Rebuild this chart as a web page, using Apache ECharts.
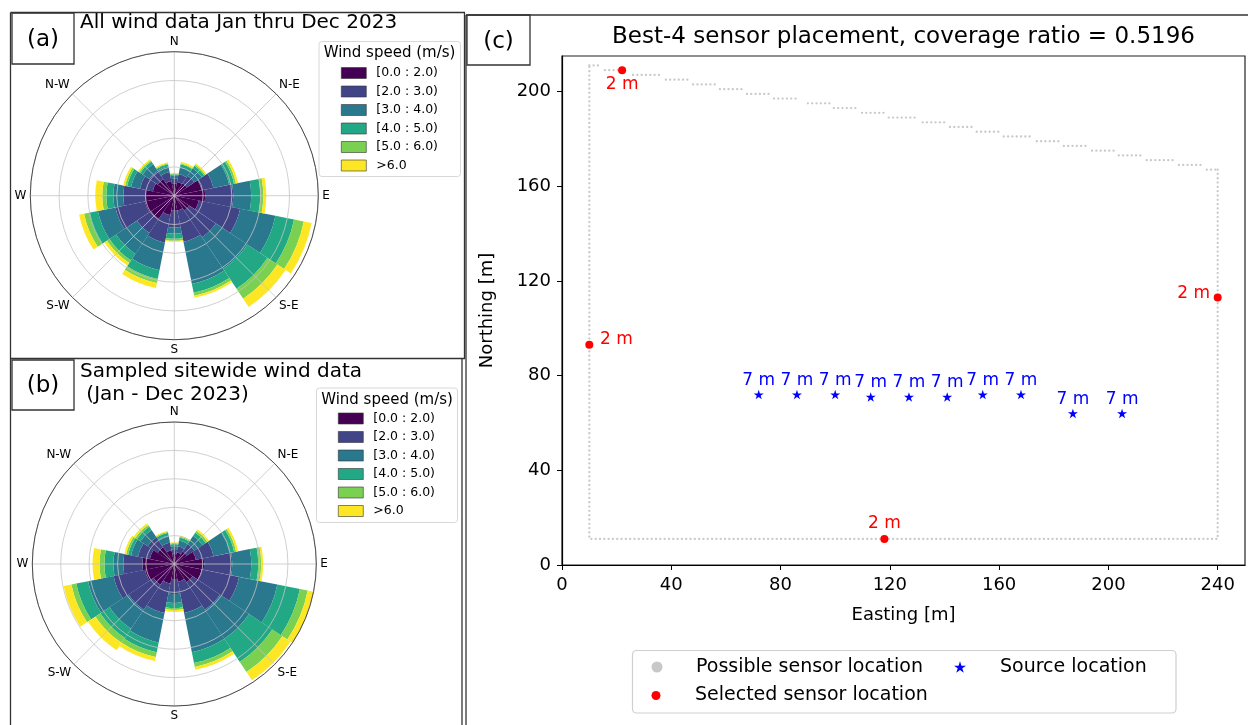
<!DOCTYPE html>
<html>
<head>
<meta charset="utf-8">
<script src="https://cdn.jsdelivr.net/npm/echarts@6/dist/echarts.min.js"></script>
<style>
  html, body { margin: 0; padding: 0; background: #fff; }
  #chart { width: 1248px; height: 725px; }
</style>
</head>
<body>
<div id="chart"></div>
<script>
// wind rose: 16 sectors, frequency (%) of each speed bin
const directions = ["N", "NNE", "NE", "ENE", "E", "ESE", "SE", "SSE", "S", "SSW", "SW", "WSW", "W", "WNW", "NW", "NNW"];
const compassTicks = { 0: "N", 45: "N-E", 90: "E", 135: "S-E", 180: "S", 225: "S-W", 270: "W", 315: "N-W" };
const speedBins = ["[0.0 : 2.0)", "[2.0 : 3.0)", "[3.0 : 4.0)", "[4.0 : 5.0)", "[5.0 : 6.0)", ">6.0"];

// (a) all wind data
const allWind0 = [0.83, 0.97, 1.04, 1.94, 2.15, 1.74, 1.25, 1.04, 1.04, 1.39, 1.94, 2.08, 2.01, 1.53, 1.39, 1.04];
const allWind1 = [0.35, 0.56, 0.63, 0.83, 1.94, 2.92, 2.22, 2.22, 1.18, 1.94, 1.18, 2.08, 1.53, 0.90, 0.69, 0.63];
const allWind2 = [0.21, 0.49, 0.63, 1.11, 1.25, 2.50, 2.64, 2.99, 0.42, 1.94, 1.74, 1.25, 0.69, 0.63, 0.56, 0.42];
const allWind3 = [0.10, 0.21, 0.21, 0.35, 0.63, 1.32, 1.67, 0.63, 0.35, 0.63, 0.56, 0.63, 0.49, 0.28, 0.21, 0.14];
const allWind4 = [0.06, 0.07, 0.10, 0.14, 0.21, 0.69, 0.83, 0.21, 0.14, 0.28, 0.21, 0.35, 0.28, 0.14, 0.10, 0.07];
const allWind5 = [0.05, 0.10, 0.10, 0.14, 0.21, 0.56, 0.69, 0.14, 0.07, 0.35, 0.21, 0.35, 0.49, 0.14, 0.10, 0.07];

// (b) sampled sitewide wind data
const sampled0 = [0.70, 0.85, 1.06, 1.55, 2.11, 1.97, 1.55, 1.27, 1.06, 1.41, 1.76, 2.11, 2.25, 1.76, 1.41, 0.99];
const sampled1 = [0.35, 0.42, 0.63, 1.27, 1.97, 2.68, 2.32, 2.25, 1.06, 2.11, 2.11, 2.25, 1.34, 0.85, 0.85, 0.56];
const sampled2 = [0.21, 0.42, 0.70, 1.20, 1.34, 2.75, 2.46, 2.82, 0.63, 2.11, 1.62, 1.83, 0.70, 0.49, 0.63, 0.49];
const sampled3 = [0.14, 0.21, 0.28, 0.28, 0.49, 1.62, 1.97, 0.77, 0.35, 0.70, 0.77, 0.85, 0.63, 0.21, 0.28, 0.21];
const sampled4 = [0.07, 0.07, 0.14, 0.14, 0.21, 0.56, 0.85, 0.28, 0.14, 0.35, 0.42, 0.35, 0.35, 0.14, 0.14, 0.07];
const sampled5 = [0.07, 0.07, 0.14, 0.14, 0.14, 0.42, 0.70, 0.21, 0.14, 0.28, 0.63, 0.56, 0.49, 0.14, 0.14, 0.07];

// (c) sensor placement, easting/northing in m
const xTicks = [0, 40, 80, 120, 160, 200, 240];
const yTicks = [0, 40, 80, 120, 160, 200];
const boundaryOuter = [[240, 167], [240, 11], [10, 11], [10, 211]];
// stepped top edge: [east start, east end, northing]
const boundaryTopRows = [
  [10, 14.6, 211], [15.7, 22, 209], [26, 36.6, 207], [38, 46.8, 205], [48, 56.7, 203],
  [57.8, 66.6, 201], [67.7, 76.5, 199], [77.6, 86.7, 197], [90, 98.8, 195], [99.5, 108.7, 193],
  [109.8, 119, 191], [119.6, 130, 189], [132, 140.5, 187], [142, 150.4, 185], [151.8, 160.6, 183],
  [161.7, 172.3, 181], [173.8, 182.6, 179], [183.7, 192.5, 177], [194, 202.7, 175], [203.8, 212.6, 173],
  [214, 224.3, 171], [225.8, 234.5, 169], [236, 240, 167]
];
const selectedSensors = [[22, 209], [240, 113], [10, 93], [118, 11]];
const selectedHeights = ["2 m", "2 m", "2 m", "2 m"];
const sources = [[72, 72], [86, 72], [100, 72], [113, 71], [127, 71], [141, 71], [154, 72], [168, 72], [187, 64], [205, 64]];
const sourceHeights = ["7 m", "7 m", "7 m", "7 m", "7 m", "7 m", "7 m", "7 m", "7 m", "7 m"];

const FONT = "DejaVu Sans";
const viridis6 = ["#440154", "#414487", "#2a788e", "#22a884", "#7ad151", "#fde725"];
const selectedLabelOffsets = [[0, 14], [-24, -4], [27, -5], [0, -15]];

function starPath() {
  const pts = [];
  for (let i = 0; i < 10; i++) {
    const r = i % 2 ? 0.382 : 1;
    const a = -Math.PI / 2 + (i * Math.PI) / 5;
    pts.push((i ? "L" : "M") + (r * Math.cos(a)).toFixed(3) + " " + (r * Math.sin(a)).toFixed(3));
  }
  return "path://" + pts.join(" ") + "Z";
}
const STAR = starPath();

const chart = echarts.init(document.getElementById("chart"), null, { renderer: "canvas" });

function roseSeries(bins, polarIndex, stack) {
  return bins.map((vals, i) => ({
    type: "bar",
    coordinateSystem: "polar",
    polarIndex: polarIndex,
    stack: stack,
    name: speedBins[i],
    data: vals,
    barCategoryGap: "0%",
    itemStyle: { color: viridis6[i] },
    silent: true,
    z: 2
  }));
}

function roseAxes(barPolar, gridPolar) {
  return {
    angle: [
      {
        polarIndex: barPolar, type: "category", data: directions, startAngle: 101.25, clockwise: true,
        axisLine: { show: false }, axisTick: { show: false }, axisLabel: { show: false }, splitLine: { show: false }
      },
      {
        polarIndex: gridPolar, type: "value", min: 0, max: 360, interval: 45, startAngle: 90, clockwise: true, z: 10,
        axisLine: { lineStyle: { color: "#3a3a3a", width: 0.9 } },
        axisTick: { show: false },
        axisLabel: { margin: 4, color: "#000", fontFamily: FONT, fontSize: 12, formatter: v => compassTicks[v] || "" },
        splitLine: { show: true, lineStyle: { color: "#c4c4c4", width: 0.8 } }
      }
    ],
    radius: [
      { polarIndex: barPolar, type: "value", min: 0, max: 10, show: false },
      {
        polarIndex: gridPolar, type: "value", min: 0, max: 10, interval: 2, z: 10,
        axisLine: { show: false }, axisTick: { show: false }, axisLabel: { show: false },
        splitLine: { show: true, lineStyle: { color: "#c4c4c4", width: 0.8 } }
      }
    ]
  };
}
const axesA = roseAxes(0, 1);
const axesB = roseAxes(2, 3);

function text(x, y, str, size, extra) {
  return {
    type: "text", x: x, y: y, z: 20, silent: true,
    style: Object.assign({ text: str, fontFamily: FONT, fontSize: size, fill: "#000", align: "left", verticalAlign: "middle" }, extra || {})
  };
}
function box(x, y, w, h, stroke, lw, r) {
  return {
    type: "rect", z: 15, silent: true,
    shape: { x: x, y: y, width: w, height: h, r: r || 0 },
    style: { fill: null, stroke: stroke, lineWidth: lw }
  };
}
function line(x1, y1, x2, y2) {
  return { type: "line", z: 15, silent: true, shape: { x1, y1, x2, y2 }, style: { stroke: "#333", lineWidth: 1.3 } };
}

const roseLegend = (left, top) => ({
  orient: "vertical", left: left, top: top, data: speedBins, padding: 0,
  itemWidth: 25, itemHeight: 11, itemGap: 4.5, icon: "rect",
  itemStyle: { borderColor: "#333", borderWidth: 0.6 },
  textStyle: { fontFamily: FONT, fontSize: 12.5, color: "#000", lineHeight: 14, padding: [0, 0, 0, 5] },
  selectedMode: false
});

const cLegend = (left, top, name, icon, color, size, gap) => ({
  left: left, top: top, padding: 0, data: [{ name: name, icon: icon, itemStyle: { color: color } }],
  itemWidth: size, itemHeight: size, selectedMode: false,
  textStyle: { fontFamily: FONT, fontSize: 19, color: "#000", lineHeight: 22, padding: [0, 0, 0, gap] }
});

const option = {
  animation: false,
  backgroundColor: "#fff",
  polar: [
    { center: [174.3, 195.7], radius: 144 },
    { center: [174.3, 195.7], radius: 144 },
    { center: [174.3, 564], radius: 142 },
    { center: [174.3, 564], radius: 142 }
  ],
  angleAxis: axesA.angle.concat(axesB.angle),
  radiusAxis: axesA.radius.concat(axesB.radius),
  grid: { left: 562, top: 56, width: 683, height: 509, show: true, borderColor: "#222", borderWidth: 1.2 },
  xAxis: {
    type: "value", min: 0, max: 250,
    name: "Easting [m]", nameLocation: "middle", nameGap: 41,
    nameTextStyle: { fontFamily: FONT, fontSize: 18, color: "#000" },
    axisLine: { lineStyle: { color: "#000", width: 1.2 } },
    axisTick: { show: true, length: 5, customValues: xTicks, lineStyle: { color: "#000" } },
    axisLabel: { customValues: xTicks, margin: 11, fontFamily: FONT, fontSize: 18, color: "#000" },
    splitLine: { show: false }
  },
  yAxis: {
    type: "value", min: 0, max: 215,
    name: "Northing [m]", nameLocation: "middle", nameGap: 66, nameRotate: 90,
    nameTextStyle: { fontFamily: FONT, fontSize: 18, color: "#000" },
    axisLine: { show: true, lineStyle: { color: "#000", width: 1.2 } },
    axisTick: { show: true, length: 5, customValues: yTicks, lineStyle: { color: "#000" } },
    axisLabel: { customValues: yTicks, margin: 11, fontFamily: FONT, fontSize: 18, color: "#000" },
    splitLine: { show: false }
  },
  legend: [
    roseLegend(341, 66),
    roseLegend(338, 411.5),
    cLegend(651.5, 656, "Possible sensor location", "circle", "#c8c8c8", 9, 29.5),
    cLegend(651.5, 684.5, "Selected sensor location", "circle", "#ff0000", 9, 29.5),
    cLegend(954, 656, "Source location", STAR, "#0000ff", 12, 29)
  ],
  series: [
    ...roseSeries([allWind0, allWind1, allWind2, allWind3, allWind4, allWind5], 0, "all"),
    ...roseSeries([sampled0, sampled1, sampled2, sampled3, sampled4, sampled5], 2, "sampled"),
    {
      type: "lines", name: "Possible sensor location", coordinateSystem: "cartesian2d", polyline: true, silent: true,
      data: [{ coords: boundaryOuter }].concat(boundaryTopRows.map(r => ({ coords: [[r[0], r[2]], [r[1], r[2]]] }))),
      lineStyle: { color: "#c8c8c8", width: 2.3, type: [0.01, 4.3], cap: "round", opacity: 1 },
      z: 2
    },
    {
      type: "scatter", name: "Selected sensor location", symbol: "circle", symbolSize: 8,
      itemStyle: { color: "#ff0000", opacity: 1 }, z: 4,
      data: selectedSensors.map((p, i) => ({
        value: p,
        label: {
          show: true, position: "inside", offset: selectedLabelOffsets[i], formatter: selectedHeights[i],
          color: "#ff0000", fontFamily: FONT, fontSize: 17
        }
      }))
    },
    {
      type: "scatter", name: "Source location", symbol: STAR, symbolSize: 10, symbolKeepAspect: true,
      itemStyle: { color: "#0000ff", opacity: 1 }, z: 4,
      data: sources.map((p, i) => ({
        value: p,
        label: {
          show: true, position: "inside", offset: [0, -14], formatter: sourceHeights[i],
          color: "#0000ff", fontFamily: FONT, fontSize: 17
        }
      }))
    }
  ],
  graphic: [
    // panel frames
    line(10.5, 12.5, 465, 12.5),
    line(10.5, 12.5, 10.5, 725),
    line(10.5, 358.5, 465, 358.5),
    line(464.5, 12.5, 464.5, 358.5),
    line(462, 358.5, 462, 725),
    line(466, 15, 1248, 15),
    line(466, 15, 466, 725),
    // panel tags
    box(12, 13, 62, 51, "#333", 1.3), text(43, 40, "(a)", 23, { align: "center" }),
    box(12, 360, 62, 50, "#333", 1.3), text(43, 386, "(b)", 23, { align: "center" }),
    box(467, 15, 63, 50, "#333", 1.3), text(498.5, 42, "(c)", 23, { align: "center" }),
    // titles
    text(80, 23, "All wind data Jan thru Dec 2023", 20),
    text(80, 372, "Sampled sitewide wind data", 20),
    text(80, 395, " (Jan - Dec 2023)", 20),
    text(903.5, 37, "Best-4 sensor placement, coverage ratio = 0.5196", 23, { align: "center" }),
    // wind legends
    box(319, 41.5, 141.5, 135, "#d8d8d8", 1, 3), text(389.5, 53, "Wind speed (m/s)", 15, { align: "center" }),
    box(316.5, 388, 141, 134.5, "#d8d8d8", 1, 3), text(387, 400, "Wind speed (m/s)", 15, { align: "center" }),
    // sensor legend frame
    box(632.5, 650.5, 543.5, 62.5, "#cfcfcf", 1.2, 4)
  ]
};

chart.setOption(option);
</script>
</body>
</html>
